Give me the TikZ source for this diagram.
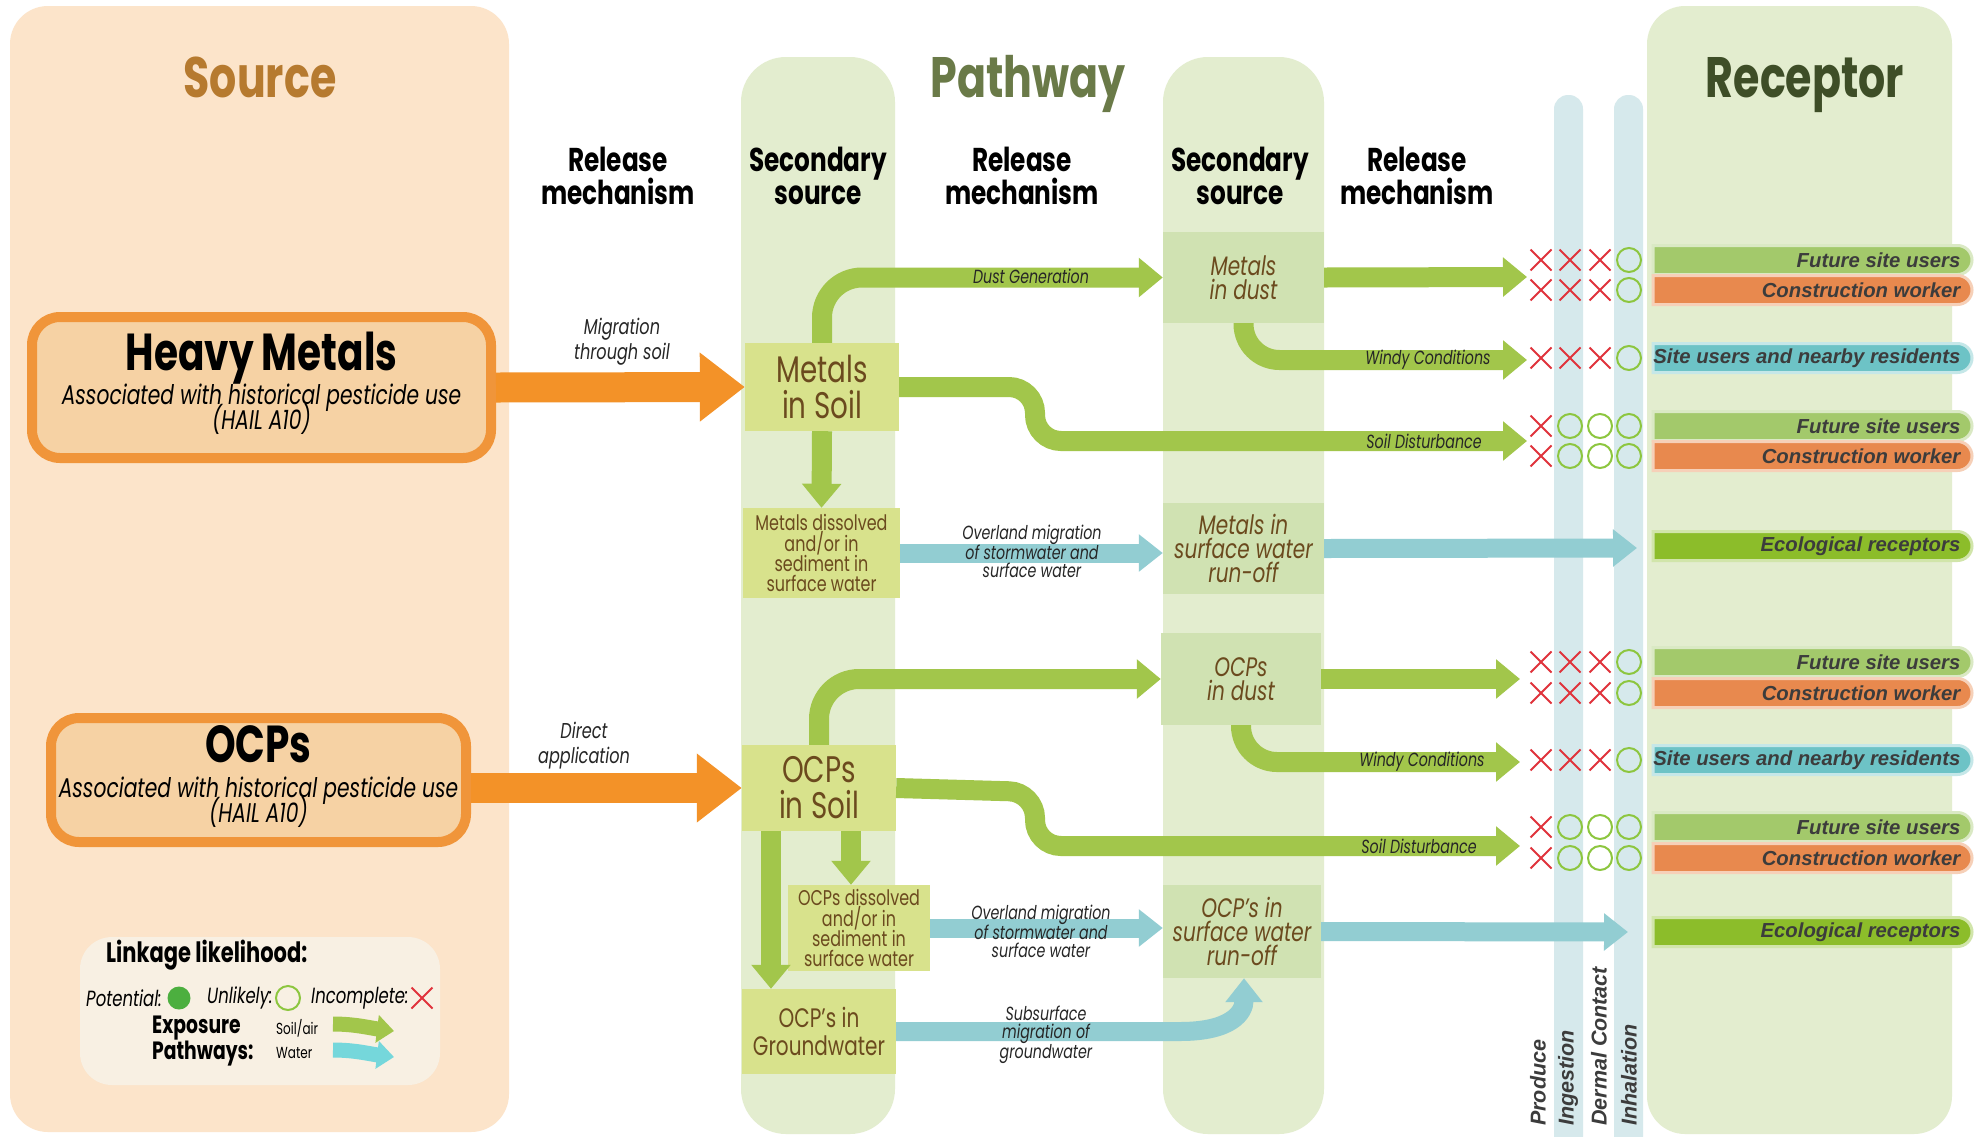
\documentclass[tikz,border=0pt]{standalone}
\usepackage{fontspec}
\setmainfont{Poppins}[FakeStretch=0.75]
\newfontfamily\arialf{Liberation Sans}
\usetikzlibrary{arrows.meta,shapes.misc}
\definecolor{srcbg}{HTML}{FCE4CA}
\definecolor{pathbg}{HTML}{E3EDCF}
\definecolor{bluecol}{HTML}{D6E9EC}
\definecolor{hmfill}{HTML}{F6D2A4}
\definecolor{hmdraw}{HTML}{F0953A}
\definecolor{orarr}{HTML}{F39228}
\definecolor{boxA}{HTML}{D8E28C}
\definecolor{boxB}{HTML}{D0E2B2}
\definecolor{boxtxt}{HTML}{6B4A1E}
\definecolor{garr}{HTML}{A2C64B}
\definecolor{barr}{HTML}{92CDD2}
\definecolor{srcT}{HTML}{B67A2F}
\definecolor{pathT}{HTML}{6A7A48}
\definecolor{recT}{HTML}{3E4E27}
\definecolor{pillG}{HTML}{A3C96B}
\definecolor{pillO}{HTML}{E8894E}
\definecolor{pillT}{HTML}{6DC3C6}
\definecolor{pillE}{HTML}{8CBD2A}
\definecolor{xred}{HTML}{E0333C}
\definecolor{ogreen}{HTML}{8DC63F}
\definecolor{potg}{HTML}{4CAF3F}
\definecolor{legbg}{HTML}{F8F0E3}
\definecolor{rtxt}{HTML}{3C3C3C}
\tikzset{
 ttl/.style={font=\fontsize{57}{60}\selectfont\bfseries, inner sep=0pt, anchor=base},
 hdr/.style={font=\fontsize{33}{33}\selectfont\bfseries, align=center, inner sep=0pt},
 bigsrc/.style={font=\fontsize{52}{56}\selectfont\bfseries, anchor=base, inner sep=0pt},
 srcsub/.style={font=\fontsize{27}{30}\selectfont\itshape, anchor=base, inner sep=0pt},
 srcbox/.style={draw=hmdraw, line width=10pt, fill=hmfill, rounded corners=28pt, inner sep=0pt},
 boxa/.style={fill=boxA, text=boxtxt, align=center, inner sep=0pt},
 boxb/.style={fill=boxB, text=boxtxt, align=center, inner sep=0pt},
 garrow/.style={draw=garr, line width=20pt, -{Triangle[width=38pt,length=24pt]}},
 barrow/.style={draw=barr, line width=19pt, -{Triangle[width=36pt,length=24pt]}},
 oarrow/.style={draw=orarr, line width=30pt, -{Triangle[width=66pt,length=45pt]}},
 albl/.style={font=\fontsize{19}{17.5}\selectfont\itshape, text=black!85, align=center, inner sep=0pt},
 mlbl/.style={font=\fontsize{21.5}{25}\selectfont\itshape, text=black!85, align=center, inner sep=0pt},
 pill/.style={rounded rectangle, rounded rectangle west arc=none, minimum width=319pt, minimum height=29pt, inner sep=0pt, line width=3pt},
 rlab/.style={font=\arialf\fontsize{20.3}{22}\selectfont\bfseries\itshape, text=rtxt, anchor=east, inner sep=0pt},
 xm/.style={cross out, draw=xred, line width=2pt, minimum size=19pt, inner sep=0pt},
 om/.style={circle, draw=ogreen, line width=2pt, minimum size=24pt, inner sep=0pt},
 vlab/.style={rotate=90, anchor=west, font=\arialf\fontsize{21.5}{22}\selectfont\bfseries\itshape, text=rtxt, inner sep=0pt},
 legt/.style={font=\fontsize{22}{24}\selectfont\itshape, anchor=west, inner sep=0pt},
}
\begin{document}
\begin{tikzpicture}[x=1pt,y=-1pt]
\useasboundingbox (0,0) rectangle (1986,1136);
\fill[white] (0,0) rectangle (1986,1136);
\begin{scope}
\clip (0,0) rectangle (1986,1136);
% panels
\fill[srcbg, rounded corners=38pt] (10,6) rectangle (509,1132);
\fill[pathbg, rounded corners=45pt] (741,57) rectangle (895,1134);
\fill[pathbg, rounded corners=45pt] (1163,57) rectangle (1324,1134);
\fill[pathbg, rounded corners=38pt] (1647,6) rectangle (1952,1134);
\fill[bluecol, rounded corners=14pt] (1554,95) rectangle (1583,1170);
\fill[bluecol, rounded corners=14pt] (1614,95) rectangle (1643,1170);
\end{scope}

% titles
\node[ttl, text=srcT] (tsrc) at (260,97) {Source};
\node[ttl, text=pathT] (tpath) at (1028,97) {Pathway};
\node[ttl, text=recT] (trec) at (1805,97) {Receptor};

% headers
\node[hdr] (h1) at (618,176) {Release\\mechanism};
\node[hdr] (h2) at (818,176) {Secondary\\source};
\node[hdr] (h3) at (1022,176) {Release\\mechanism};
\node[hdr] (h4) at (1240,176) {Secondary\\source};
\node[hdr] (h5) at (1417,176) {Release\\mechanism};

% source boxes
\node[srcbox, minimum width=459pt, minimum height=141pt] (hm) at (261.5,387.5) {};
\node[bigsrc] (hmT) at (261.5,370) {Heavy Metals};
\node[srcsub] (hmS) at (261.5,404) {Associated with historical pesticide use};
\node[srcsub] (hmH) at (261.5,429) {(HAIL A10)};
\node[srcbox, minimum width=415pt, minimum height=124pt] (ocp) at (258.5,780) {};
\node[bigsrc] (ocT) at (258.5,762) {OCPs};
\node[srcsub] (ocS) at (258.5,797) {Associated with historical pesticide use};
\node[srcsub] (ocH) at (258.5,822) {(HAIL A10)};

% secondary source boxes (column 1)
\node[boxa, minimum width=154pt, minimum height=88pt, font=\fontsize{37}{36}\selectfont] (mis) at (822,387) {Metals\\in Soil};
\node[boxa, minimum width=157pt, minimum height=90pt, font=\fontsize{21.3}{20}\selectfont] (mdis) at (821.5,553) {Metals dissolved\\and/or in\\sediment in\\surface water};
\node[boxa, minimum width=154pt, minimum height=86pt, font=\fontsize{37}{36}\selectfont] (ocs) at (819,788) {OCPs\\in Soil};
\node[boxa, minimum width=142pt, minimum height=86pt, font=\fontsize{21.3}{20}\selectfont] (ocdis) at (859,928) {OCPs dissolved\\and/or in\\sediment in\\surface water};
\node[boxa, minimum width=154pt, minimum height=85pt, font=\fontsize{26.7}{28}\selectfont] (ogw) at (819,1031.5) {OCP's in\\Groundwater};

% secondary source boxes (column 2)
\node[boxb, minimum width=161pt, minimum height=91pt, font=\fontsize{26.7}{24}\selectfont\itshape] (mid) at (1243.5,277.5) {Metals\\in dust};
\node[boxb, minimum width=161pt, minimum height=91pt, font=\fontsize{26.7}{24}\selectfont\itshape] (msw) at (1243.5,548.5) {Metals in\\surface water\\run-off};
\node[boxb, minimum width=160pt, minimum height=92pt, font=\fontsize{26.7}{24}\selectfont\itshape] (ocd) at (1241,679) {OCPs\\in dust};
\node[boxb, minimum width=158pt, minimum height=93pt, font=\fontsize{26.7}{24}\selectfont\itshape] (osw) at (1242,931.5) {OCP's in\\surface water\\run-off};

% end coordinates
\coordinate (e1) at (1527,277);
\coordinate (e2) at (1527,360);
\coordinate (e3) at (1527,441);
\coordinate (e4) at (1637,548);
\coordinate (e5) at (1520,679);
\coordinate (e6) at (1520,762);
\coordinate (e7) at (1520,846);
\coordinate (e8) at (1628,932);

% orange arrows
\draw[oarrow] (hm.east) -- (mis.west);
\draw[oarrow] (ocp.east |- ocs.west) -- (ocs.west);
\node[mlbl] (l1) at (622,342) {Migration\\through soil};
\node[mlbl] (l2) at (584,746) {Direct\\application};

% metals arrows
\draw[garrow, rounded corners=40pt] (mis.north) |- (mid.west);
\draw[garrow, rounded corners=26pt] (mis.east) -- (1035,387) -- (1035,441) -- (e3);
\draw[garrow] (mis.south) -- (mdis.north);
\draw[barrow] (mdis.east) -- (mdis.east -| msw.west);
\draw[garrow] (mid.east) -- (e1);
\draw[garrow, rounded corners=36pt] (mid.south) |- (e2);
\draw[barrow] (msw.east) -- (e4);

% OCP arrows
\draw[garrow, rounded corners=40pt] (ocs.north) |- (ocd.west);
\draw[garrow, rounded corners=26pt] (ocs.east) -- (1035,792) -- (1035,846) -- (e7);
\draw[garrow] (ocd.east) -- (e5);
\draw[garrow, rounded corners=36pt] (ocd.south) |- (e6);
\draw[garrow] ([xshift=32pt]ocs.south) -- ([xshift=32pt]ocs.south |- ocdis.north);
\draw[garrow] ([xshift=-48pt]ocs.south) -- ([xshift=-48pt]ogw.north);
\draw[barrow] (ocdis.east) -- (ocdis.east -| osw.west);
\draw[barrow] (ogw.east) -- (1180,1031.5) .. controls (1232,1031.5) and (1244,1012) .. ([xshift=2pt]osw.south);
\draw[barrow] (osw.east) -- (e8);

% arrow labels
\node[albl] (a1) at (1031,276) {Dust Generation};
\node[albl] (a2) at (1428,360) {Windy Conditions};
\node[albl] (a3) at (1424,441) {Soil Disturbance};
\node[albl] (a4) at (1032,551) {Overland migration\\of stormwater and\\surface water};
\node[albl] (a5) at (1422,762) {Windy Conditions};
\node[albl] (a6) at (1419,846) {Soil Disturbance};
\node[albl] (a7) at (1041,931) {Overland migration\\of stormwater and\\surface water};
\node[albl] (a8) at (1046,1035) {Subsurface\\migration of\\groundwater};

% receptor pills
\foreach \yy/\cc/\tt [count=\i] in {
  260/pillG/Future site users,
  290/pillO/Construction worker,
  358/pillT/Site users and nearby residents,
  426/pillG/Future site users,
  456/pillO/Construction worker,
  546/pillE/Ecological receptors,
  662/pillG/Future site users,
  693/pillO/Construction worker,
  760/pillT/Site users and nearby residents,
  827/pillG/Future site users,
  858/pillO/Construction worker,
  932/pillE/Ecological receptors}{
  \node[pill, fill=\cc, draw=\cc!40] (p\i) at (1812.5,\yy) {};
  \node[rlab] (pt\i) at ([xshift=-13pt]p\i.east) {\tt};
}

% symbols
\foreach \yy/\pp [count=\i] in {260/1,290/1,358/1,426/2,456/2,662/1,693/1,760/1,827/2,858/2}{
  \node[xm] (s\i-a) at (1541,\yy) {};
  \ifnum\pp=1
    \node[xm] (s\i-b) at (1570,\yy) {};
    \node[xm] (s\i-c) at (1600,\yy) {};
  \else
    \node[om] (s\i-b) at (1570,\yy) {};
    \node[om] (s\i-c) at (1600,\yy) {};
  \fi
  \node[om] (s\i-d) at (1629,\yy) {};
}

% vertical labels
\node[vlab] (v1) at (1538,1126) {Produce};
\node[vlab] (v2) at (1568,1126) {Ingestion};
\node[vlab] (v3) at (1599,1126) {Dermal Contact};
\node[vlab] (v4) at (1629,1126) {Inhalation};

% legend
\fill[legbg, rounded corners=32pt] (80,937) rectangle (440,1085);
\node[font=\fontsize{28}{30}\selectfont\bfseries, anchor=west, inner sep=0pt] (lg1) at (106,955) {Linkage likelihood:};
\node[legt] (lg2) at (86,998) {Potential:};
\node[circle, fill=potg, minimum size=23pt, inner sep=0pt] (lg3) at (179,998) {};
\node[legt] (lg4) at (207,998) {Unlikely:};
\node[om] (lg5) at (288,998) {};
\node[legt] (lg6) at (311,998) {Incomplete:};
\node[xm] (lg7) at (422,998) {};
\node[font=\fontsize{25}{24}\selectfont\bfseries, align=left, anchor=west, inner sep=0pt] (lg8) at (152,1041) {Exposure\\Pathways:};
\node[font=\fontsize{16}{18}\selectfont, anchor=west, inner sep=0pt] (lg9) at (276,1028) {Soil/air};
\node[font=\fontsize{16}{18}\selectfont, anchor=west, inner sep=0pt] (lg10) at (276,1053) {Water};
\coordinate (lga) at (333,1024);
\coordinate (lgb) at (394,1031);
\coordinate (lgc) at (333,1050);
\coordinate (lgd) at (394,1057);
\draw[draw=garr, line width=15pt, -{Triangle[width=27pt,length=17pt]}] (lga) .. controls (355,1024) and (370,1028) .. (lgb);
\draw[draw=barr!80!cyan, line width=15pt, -{Triangle[width=27pt,length=17pt]}] (lgc) .. controls (355,1050) and (370,1054) .. (lgd);
\end{tikzpicture}
\end{document}
